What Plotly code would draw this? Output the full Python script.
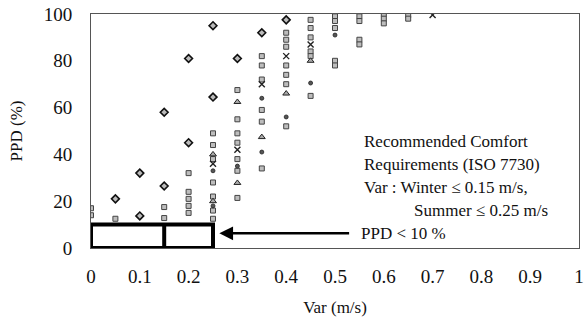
import plotly.graph_objects as go

# ---- data ----
diamond_x = [0.05, 0.10, 0.10, 0.15, 0.15, 0.20, 0.20, 0.25, 0.25, 0.30, 0.35, 0.40]
diamond_y = [21, 32, 13.7, 58, 26.5, 81, 45, 95, 64.5, 81, 92, 97.5]

square_x = [0, 0, 0.05, 0.15, 0.15, 0.20, 0.20, 0.20, 0.20, 0.20,
            0.25, 0.25, 0.25, 0.25, 0.25, 0.25, 0.25,
            0.30, 0.30, 0.30, 0.30, 0.30, 0.30, 0.30,
            0.35, 0.35, 0.35, 0.35, 0.35, 0.35,
            0.40, 0.40, 0.40, 0.40, 0.40, 0.40, 0.40,
            0.45, 0.45, 0.45, 0.45, 0.45, 0.45,
            0.50, 0.50, 0.50, 0.50, 0.50,
            0.55, 0.55, 0.55, 0.55,
            0.60, 0.60, 0.60, 0.65, 0.65]
square_y = [17, 14, 12.5, 17.5, 12.8, 32, 24, 21, 18, 15,
            49, 44, 38, 28, 22, 16, 12.5,
            67.5, 55, 49, 45, 38, 33, 21.4,
            82, 78, 72, 59, 54, 34,
            92, 89, 86, 78, 74, 70, 52,
            97.5, 94, 90, 84, 82, 65,
            99, 97, 94, 80, 78,
            99, 97, 89, 87,
            100, 98, 96, 99.5, 98]

triangle_x = [0.25, 0.25, 0.30, 0.30, 0.35, 0.40, 0.45]
triangle_y = [40, 20, 62.4, 27.8, 47.4, 66, 80]

cross_x = [0.25, 0.30, 0.35, 0.40, 0.45, 0.70]
cross_y = [36, 42, 70, 82, 87, 99.6]

circle_x = [0.25, 0.25, 0.30, 0.35, 0.35, 0.40, 0.45, 0.50]
circle_y = [33, 18, 35, 64, 41, 56, 70.5, 91]

x_ticks = [0, 0.1, 0.2, 0.3, 0.4, 0.5, 0.6, 0.7, 0.8, 0.9, 1]
x_tick_text = ["0", "0.1", "0.2", "0.3", "0.4", "0.5", "0.6", "0.7", "0.8", "0.9", "1"]
y_ticks = [0, 20, 40, 60, 80, 100]

winter_limit = 0.15
summer_limit = 0.25
ppd_limit = 10

FONT = "Liberation Serif"

fig = go.Figure()
fig.add_trace(go.Scatter(x=square_x, y=square_y, mode="markers",
                         marker=dict(symbol="square", size=5, color="#bdbdbd",
                                     line=dict(color="#444", width=1))))
fig.add_trace(go.Scatter(x=triangle_x, y=triangle_y, mode="markers",
                         marker=dict(symbol="triangle-up", size=6, color="#aaa",
                                     line=dict(color="#222", width=1))))
fig.add_trace(go.Scatter(x=circle_x, y=circle_y, mode="markers",
                         marker=dict(symbol="circle", size=4, color="#555",
                                     line=dict(color="#222", width=0.8))))
fig.add_trace(go.Scatter(x=cross_x, y=cross_y, mode="markers",
                         marker=dict(symbol="x-thin", size=6,
                                     line=dict(color="#222", width=1.4))))
fig.add_trace(go.Scatter(x=diamond_x, y=diamond_y, mode="markers",
                         marker=dict(symbol="diamond", size=6, color="#bbb",
                                     line=dict(color="#111", width=1.6))))

# comfort box
fig.add_shape(type="rect", x0=0, x1=summer_limit, y0=0, y1=ppd_limit,
              line=dict(color="black", width=4), fillcolor="rgba(0,0,0,0)")
fig.add_shape(type="line", x0=winter_limit, x1=winter_limit, y0=0, y1=ppd_limit,
              line=dict(color="black", width=4))

# arrow
fig.add_annotation(x=0.263, y=6.3, ax=0.532, ay=6.3, axref="x", ayref="y",
                   xref="x", yref="y", text="", showarrow=True,
                   arrowhead=2, arrowsize=1.1, arrowwidth=2.5, arrowcolor="black")

tf = dict(family=FONT, size=17, color="#111")
lines = [
    ("Recommended Comfort", 0.556, 45.7, "left"),
    ("Requirements (ISO 7730)", 0.556, 35.5, "left"),
    ("Var : Winter \u2264 0.15 m/s,", 0.556, 26.0, "left"),
    ("Summer \u2264 0.25 m/s", 0.94, 16.2, "right"),
    ("PPD < 10 %", 0.55, 6.4, "left"),
]
for t, x, y, anc in lines:
    fig.add_annotation(x=x, y=y, xref="x", yref="y", text=t, showarrow=False,
                       xanchor=anc, yanchor="middle", font=tf)

fig.update_layout(
    width=587, height=326,
    margin=dict(l=91, r=3, t=14, b=78),
    paper_bgcolor="white", plot_bgcolor="white",
    showlegend=False,
    font=dict(family=FONT, size=19, color="#111"),
    xaxis=dict(range=[0, 1.0], tickvals=x_ticks, ticktext=x_tick_text,
               showgrid=False, zeroline=False, showline=True, linecolor="#555",
               linewidth=1, mirror=True, ticks="", ticklen=0,
               ticklabelstandoff=11, ticklabeloverflow="allow",
               title=dict(text="Var (m/s)", font=dict(family=FONT, size=17), standoff=15),
               tickfont=dict(family=FONT, size=19)),
    yaxis=dict(range=[0, 100], tickvals=y_ticks,
               showgrid=False, zeroline=False, showline=True, linecolor="#555",
               linewidth=1, mirror=True, ticks="", ticklen=0,
               ticklabelstandoff=14,
               title=dict(text="PPD (%)", font=dict(family=FONT, size=17), standoff=16),
               tickfont=dict(family=FONT, size=19)),
)

fig.write_html("out.html")
